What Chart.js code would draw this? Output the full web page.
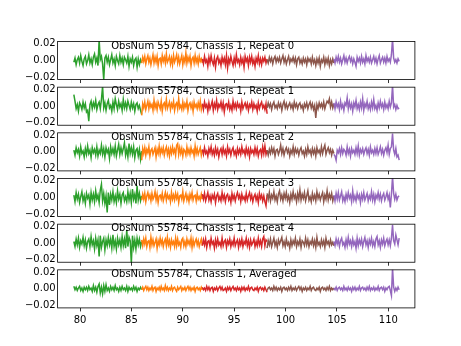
<!DOCTYPE html>
<html>
<head>
<meta charset="utf-8">
<script src="https://cdn.jsdelivr.net/npm/chart.js@4.4.1/dist/chart.umd.min.js"></script>
<style>
  body { margin: 0; background: #fff; }
  #wrap { position: relative; width: 461px; height: 346px; }
  #wrap canvas { position: absolute; left: 0; top: 0; }
</style>
</head>
<body>
<div id="wrap"></div>
<script>
// Six stacked panels of band spectra (five sub-bands each), drawn with Chart.js.
// All values below are in units of 1e-3.

// frequency span of each sub-band (x axis)
const SEG_START = [79.4, 86.0, 91.9, 98.2, 104.7];
const SEG_END = [86.0, 91.9, 98.2, 104.7, 111.05];
const X_TICKS = [80, 85, 90, 95, 100, 105, 110];
const Y_TICKS = [-0.02, 0, 0.02];
const PANEL_LABELS = [
  'ObsNum 55784, Chassis 1, Repeat 0',
  'ObsNum 55784, Chassis 1, Repeat 1',
  'ObsNum 55784, Chassis 1, Repeat 2',
  'ObsNum 55784, Chassis 1, Repeat 3',
  'ObsNum 55784, Chassis 1, Repeat 4',
  'ObsNum 55784, Chassis 1, Averaged'
];

// Repeat 0
const rep0Green = [-2, 3, -5, 1, 4, -3, 6, -1, -6, 2, 5, -4, 0, 7, -3, 2, -5, 4, 8, -2, 3, -6, 25, 1, 5, -4, -23, 3, 6, -2, 4, -5, 1, 7, -3, 2, -6, 5, 0, -4, 6, -2, 3, -5, 4, 1, -3, 5, -7, 2, -2, 4, -6, 1, 3, -8, 2, -5, 1, -3];
const rep0Orange = [-3, 4, -1, 5, -4, 2, 6, -2, 3, -5, 1, 7, -3, 4, -2, 5, -6, 2, 3, -4, 6, -1, 4, -3, 8, -2, 1, 5, -4, 3, -5, 6, -2, 2, 7, -3, 4, -4, 1, 6, -5, 3, -2, 9, -3, 4, -1, 5, -6, 2, 4, -3, 6, -2, 3, -4, 5, -1, 2, -3];
const rep0Red = [2, -4, 5, -2, 1, -7, 4, -3, 6, -1, -5, 3, -8, 2, 5, -3, 1, -6, 4, -2, 3, -5, 6, -9, 2, -3, 5, -1, -6, 3, -4, 7, -2, 1, -5, 4, -3, 2, -8, 5, -1, 3, -6, 4, -2, 5, -4, 1, -7, 3, -2, 6, -4, 2, -5, 3, -1, 4, -3, 2];
const rep0Brown = [1, -3, 4, -1, 3, -4, 2, 5, -2, 3, -1, 4, -3, 2, 6, -2, 3, -4, 1, 5, -3, 2, -1, 4, -2, 3, -5, 2, 4, -3, 1, -4, 3, -2, 2, -5, 3, -1, 2, -4, 4, -3, 1, -6, 2, -3, 3, -7, 1, -2, 4, -5, 2, -3, 3, -6, 1, -4, 2, -3];
const rep0Purple = [2, -3, 4, -1, 5, -2, 3, -4, 1, 6, -2, 3, -3, 2, 5, -1, 3, -4, 2, -2, -7, 4, -1, 3, -3, 5, -2, 2, -4, 6, -1, 3, -2, 4, -3, 1, 5, -2, 3, -4, 2, 6, -3, 1, 4, -2, 3, -3, 5, -1, 2, -2, 7, 26, 3, -2, 1, -3, 2, -1];

// Repeat 1
const rep1Green = [14, 6, -3, 2, -6, 4, 1, -4, 5, -2, 3, -7, -5, -18, 2, 6, -3, 4, -1, 7, -4, 2, 5, -3, 8, 24, -2, 4, -5, 3, 7, -2, 1, -6, 5, -3, 9, 2, -4, 6, -1, 3, -5, 8, -2, 4, -3, 6, 1, -4, 5, -2, 3, -6, 2, 4, -3, 1, -5, -10];
const rep1Orange = [-11, 3, -2, 5, -4, 1, 6, -3, 4, -1, 2, -5, 7, -2, 3, -4, 5, 1, -3, 6, -6, 2, 4, -2, 8, -3, 1, 5, -4, 3, -1, 6, -5, 2, 4, -3, 9, -2, 1, -4, 5, -3, 3, -1, 6, -5, 2, 4, -2, 3, -6, 5, -1, 2, -3, 4, -2, 6, -4, 2];
const rep1Red = [3, -4, 5, -1, 2, -6, 4, -3, 1, 6, -5, 3, -2, 7, -4, 2, -1, 5, -3, 4, -7, 2, 3, -2, 5, -4, 1, -5, 6, -2, 3, -3, 4, -1, 2, -6, 5, -3, 1, 4, -2, 3, -5, 2, -1, 5, -4, 3, -2, 1, -6, 4, -3, 2, 5, -2, 1, -4, 3, -9];
const rep1Brown = [-2, 4, -1, 3, -4, 2, 5, -2, 1, -3, 4, -1, 3, -5, 2, 6, -2, 3, -3, 1, 4, -2, 2, -4, 5, -1, 3, -3, 2, 4, -2, 1, -5, 3, -1, 4, -3, 2, 5, -2, 3, -4, 1, -14, 2, -3, 4, -1, 3, -2, 5, -3, 2, 6, 4, 9, -1, 5, -2, 3];
const rep1Purple = [4, -3, 5, -1, 3, -4, 6, -2, 2, -5, 4, 1, 10, -3, 5, -2, 3, -6, 4, -1, 7, -3, 2, -4, 5, -2, 9, -5, 3, -1, 6, -3, 2, -4, 5, -2, 8, -3, 1, -5, 4, -2, 6, -1, 3, -4, 5, -2, 2, -3, 6, -1, 4, 25, -1, 2, -4, 1, -3, -2];

// Repeat 2
const rep2Green = [2, -4, 5, -1, 3, -5, 6, -2, 1, -6, 4, -3, 7, -2, 2, -7, 5, -1, 3, -4, 6, -5, 2, -2, 8, -3, 4, -6, 5, -1, 3, -8, 6, -2, 4, -3, 7, -5, 2, 9, -3, 5, -2, 4, 11, -4, 3, -6, 10, -2, 5, -3, 6, -7, 2, 4, -5, 3, -9, 1];
const rep2Orange = [-10, 4, -2, 5, -4, 3, -1, 6, -5, 2, 4, -3, 1, 5, -6, 3, -2, 7, -3, 4, -1, 5, -4, 2, 6, -3, 3, -5, 4, -2, 6, -1, 3, -4, 8, 10, -3, 5, -2, 4, -5, 3, 1, -4, 6, -2, 3, -3, 5, -1, 2, -5, 7, -2, 4, -3, 1, 5, -4, 2];
const rep2Red = [3, -3, 5, -2, 1, -5, 4, -1, 6, -3, 2, -4, 5, -2, 3, -6, 1, 4, -3, 5, -2, 2, -5, 6, -1, 3, -4, 2, 5, -3, 1, -5, 4, -2, 3, -3, 6, -1, 2, -4, 5, -2, 3, -6, 4, -1, 2, -3, 5, -2, 4, -5, 1, 3, -4, 6, -2, 7, -3, 2];
const rep2Brown = [2, -4, 3, -2, 5, -1, 4, -5, 2, 3, -3, 1, 8, -2, 4, -4, 2, 5, -1, 3, -5, 2, -2, 6, -3, 4, -1, 3, -4, 2, 5, -2, 1, -5, 3, -3, 6, -1, 2, -4, 4, -2, 3, -5, 5, -1, 2, -3, 6, -2, 4, 8, -3, 2, 5, -1, 3, -4, 2, -2];
const rep2Purple = [-3, -5, -10, 2, -1, 4, -3, 5, -2, 3, 1, -4, 6, -2, 3, -5, 4, -1, 2, -3, 5, -2, 7, -4, 3, -1, 4, -3, 2, 5, -2, 3, -4, 6, -1, 2, -3, 4, -2, 5, -3, 1, 6, -2, 3, -4, 2, 5, -1, 8, -3, 4, 6, 22, 2, -3, 4, -6, -4, -10];

// Repeat 3
const rep3Green = [3, -5, 6, -2, 4, -6, 1, 7, -4, 2, -7, 5, -1, 3, -8, 6, -3, 4, -5, 8, -2, 3, -6, 9, 16, -4, 5, -7, 2, -18, 6, -9, 4, -3, 7, -5, 2, -6, 8, -2, 4, -7, 3, 6, -4, 1, -5, 7, -3, 5, -6, 10, -2, 4, -7, 14, -3, 5, -4, 2];
const rep3Orange = [-3, 4, -2, 5, -5, 2, 6, -1, 3, -4, 5, -2, 1, 7, -3, 4, -6, 2, 3, -2, 5, -4, 1, 6, -3, 4, -1, 2, -5, 6, -2, 3, -3, 5, -1, 4, -6, 2, 3, -2, 7, -4, 1, 5, -3, 2, -5, 4, -1, 6, -3, 2, 3, -4, 5, -2, 1, -3, 4, -2];
const rep3Red = [4, -2, 5, -4, 1, 6, -3, 2, -5, 3, -1, 4, -6, 2, 5, -3, 1, -4, 6, -2, 3, -5, 2, 4, -3, 1, -6, 5, -2, 3, -4, 2, 6, -1, 3, -5, 4, -2, 1, -4, 5, -3, 2, 6, -2, 3, -5, 1, 4, -3, 2, -6, 5, -1, 3, -4, 2, -5, -10, 3];
const rep3Brown = [5, -2, 6, -4, 3, -1, 7, -3, 2, -5, 4, 8, -2, 3, -4, 5, -1, 6, -3, 2, -6, 4, -2, 7, -1, 3, -5, 5, -2, 9, -3, 4, -1, 6, -4, 2, 8, -3, 1, -5, 5, -2, 3, -4, 7, -1, 4, -3, 2, 6, -5, 3, -2, 8, -3, 4, -1, 5, -4, 2];
const rep3Purple = [3, -4, 5, -2, 6, -3, 2, 7, -4, 1, -5, 4, -2, 6, -1, 3, -5, 8, -3, 2, -4, 5, -1, 3, -6, 4, -2, 6, -3, 1, 5, -4, 2, -2, 7, -3, 4, -5, 3, -1, 6, -2, 4, -4, 2, 5, -3, 1, 6, -2, 3, -12, 4, 25, 5, -2, 4, -3, 1, 2];

// Repeat 4
const rep4Green = [2, -4, 5, -2, 6, -5, 3, -1, 7, -3, 4, -6, 2, 5, -4, 8, -2, 3, -7, 6, -3, 4, -16, 9, -5, 2, 6, -8, 4, -3, 7, -2, 5, -6, 10, -4, 3, -7, 6, -2, 4, -5, 8, -3, 5, -6, 16, -4, 7, 3, -24, 9, -5, 4, -7, 6, -2, 5, -4, 2];
const rep4Orange = [4, -3, 5, -1, 6, -4, 2, 3, -5, 7, -2, 4, -3, 1, 5, -6, 3, -2, 6, -1, 4, -4, 2, 5, -3, 7, -2, 3, -5, 4, -1, 2, -4, 6, -3, 5, -2, 1, -5, 4, 6, -3, 2, -4, 5, -1, 3, -2, 6, -5, 4, -3, 2, 5, -2, 3, -4, 1, 5, -3];
const rep4Red = [-3, 4, -2, 5, -5, 2, 3, -4, 6, -1, 2, -6, 4, -3, 5, -2, 1, -4, 6, -3, 2, 4, -5, 3, -1, 5, -4, 2, -2, 6, -3, 1, 4, -5, 3, -2, 5, -4, 2, -1, 6, -3, 3, -5, 4, -2, 1, 5, -4, 2, -3, 6, -2, 3, -4, 5, 8, -3, 4, 2];
const rep4Brown = [-6, 3, -2, 5, -4, 1, 6, -3, 2, -5, 4, -1, 3, 7, -3, 2, -4, 5, -2, 1, -6, 4, -3, 3, -1, 6, -4, 2, -2, 5, -5, 3, 1, -3, 6, -2, 4, -4, 2, -1, 5, -3, 3, -5, 7, -2, 1, -4, 4, -2, 3, -5, 6, -1, 2, -3, 4, -2, 1, -3];
const rep4Purple = [2, -3, 5, -1, 4, -4, 3, 6, -2, 1, -5, 4, -3, 7, -1, 3, -4, 5, -2, 2, -6, 6, -3, 4, -1, 5, -4, 2, 7, -2, 3, -5, 4, -1, 6, -3, 2, -4, 5, 8, -2, 3, -5, 4, -1, 6, -3, 2, 5, -2, 4, -3, 6, 22, 3, -1, 10, 4, -2, 6];

// Averaged
const avgGreen = [3, -1, 2, -2, 1, 3, -2, 1, -3, 2, -1, 2, -2, 3, -1, 1, -3, 4, -2, 2, -4, 3, 6, -5, 2, -6, 4, -3, 5, -2, 1, -3, 3, -1, 2, -2, 4, -1, 1, -3, 2, -2, 3, -1, 1, -2, 3, -3, 2, -1, 1, -2, 3, -1, 2, -3, 1, -1, 2, -1];
const avgOrange = [-1, 2, -2, 1, 3, -1, 2, -2, 1, -1, 3, -2, 1, 2, -3, 1, -1, 2, -2, 3, -1, 1, -2, 4, -1, 2, -2, 1, -1, 3, -2, 1, 2, -1, -3, 2, -1, 1, 3, -2, 1, -1, 2, -2, 1, 3, -1, 2, -2, 1, -1, 2, -3, 1, 2, -1, 1, -2, 2, -1];
const avgRed = [2, -1, 1, -2, 3, -1, 2, -2, 1, 2, -3, 1, -1, 2, -2, 1, 3, -1, 2, -2, -1, 1, -3, 2, -1, 2, -2, 1, 3, -1, 1, -2, 2, -1, 1, -3, 2, -1, 2, -2, 1, -1, 3, -2, 1, 2, -1, -2, 1, -1, 2, -3, 1, 2, -1, 1, -2, 2, -1, -4];
const avgBrown = [-2, 1, 2, -1, 1, -2, 3, -1, 2, -2, 1, -1, 2, -3, 1, 2, -1, 1, -2, 2, -1, 3, -2, 1, -1, 2, -2, 1, 3, -1, 2, -3, 1, -1, 2, -2, 1, -1, 3, -2, 1, 2, -1, -2, 1, -1, 2, -3, 1, 2, -1, 1, -2, 2, -1, 3, -2, 1, -1, 1];
const avgPurple = [1, -1, 2, -2, 1, 2, -1, 1, -2, 3, -1, 1, -2, 2, -1, 1, -3, 2, -1, 2, -2, 1, -1, 3, -2, 1, 2, -1, 1, -2, 2, -1, 3, -2, 1, -1, 2, -2, 1, -1, 3, -2, 1, 2, -1, 2, -3, 1, -1, 2, 3, -2, -8, 25, 2, -3, 1, -2, 2, -1];

const PANEL_DATA = [
  [rep0Green, rep0Orange, rep0Red, rep0Brown, rep0Purple],
  [rep1Green, rep1Orange, rep1Red, rep1Brown, rep1Purple],
  [rep2Green, rep2Orange, rep2Red, rep2Brown, rep2Purple],
  [rep3Green, rep3Orange, rep3Red, rep3Brown, rep3Purple],
  [rep4Green, rep4Orange, rep4Red, rep4Brown, rep4Purple],
  [avgGreen, avgOrange, avgRed, avgBrown, avgPurple]
];

// matplotlib tab10 colours
const SEG_COLORS = ['#2ca02c', '#ff7f0e', '#d62728', '#8c564b', '#9467bd'];

// layout (pixels), 6 panels with gaps of 0.2 panel height
const FIG_W = 461, FIG_H = 346;
const AX_LEFT = 57.6, AX_RIGHT = 414.9, AX_TOP = 41.5, AX_BOTTOM = 307.9;
const PANEL_H = (AX_BOTTOM - AX_TOP) / 7;
const PANEL_GAP = PANEL_H * 0.2;
const X_MIN = 77.82, X_MAX = 112.58;
const Y_LIM = 0.0228;

Chart.defaults.font.family = '"DejaVu Sans", sans-serif';
Chart.defaults.font.size = 10;
Chart.defaults.color = '#000';

function segPoints(vals, k) {
  const step = (SEG_END[k] - SEG_START[k]) / (vals.length - 1);
  return vals.map((v, i) => ({ x: SEG_START[k] + i * step, y: v / 1000 }));
}

function fmtY(v) {
  if (Math.abs(v) < 1e-9) return '0.00';
  return (v < 0 ? '\u2212' : '') + Math.abs(v).toFixed(2);
}

//frame + panel label drawn over the data like matplotlib spines
function framePlugin(label) {
  return {
    id: 'frame',
    afterDraw(chart) {
      const ctx = chart.ctx, a = chart.chartArea;
      ctx.save();
      ctx.strokeStyle = '#000';
      ctx.lineWidth = 0.8;
      ctx.strokeRect(a.left, a.top, a.right - a.left, a.bottom - a.top);
      ctx.fillStyle = '#000';
      ctx.font = '10px "DejaVu Sans"';
      ctx.textAlign = 'left';
      ctx.textBaseline = 'alphabetic';
      ctx.fillText(label, a.left + 0.15 * (a.right - a.left), a.top + 7.3);
      ctx.restore();
    }
  };
}

const wrap = document.getElementById('wrap');

PANEL_DATA.forEach((segs, p) => {
  const canvas = document.createElement('canvas');
  canvas.width = FIG_W;
  canvas.height = FIG_H;
  wrap.appendChild(canvas);

  const isLast = p === PANEL_DATA.length - 1;
  const top = AX_TOP + p * (PANEL_H + PANEL_GAP);
  const bottom = top + PANEL_H;
  const xAxisH = isLast ? 20 : 3.5;

  new Chart(canvas.getContext('2d'), {
    type: 'line',
    data: {
      datasets: segs.map((vals, k) => ({
        data: segPoints(vals, k),
        borderColor: SEG_COLORS[k],
        borderWidth: 1.5,
        pointRadius: 0,
        tension: 0,
        fill: false,
        order: segs.length - k
      }))
    },
    options: {
      responsive: false,
      animation: false,
      devicePixelRatio: 1,
      events: [],
      layout: {
        padding: { left: 0, right: FIG_W - AX_RIGHT, top: top, bottom: FIG_H - bottom - xAxisH }
      },
      plugins: { legend: { display: false }, tooltip: { enabled: false } },
      scales: {
        x: {
          type: 'linear',
          min: X_MIN,
          max: X_MAX,
          border: { display: false },
          grid: { display: true, drawOnChartArea: false, drawTicks: true, tickLength: 3.5, color: '#000', lineWidth: 0.8 },
          ticks: { display: isLast, padding: 3.5, maxRotation: 0, callback: v => String(v) },
          afterBuildTicks: s => { s.ticks = X_TICKS.map(v => ({ value: v })); },
          afterFit: s => { s.height = xAxisH; }
        },
        y: {
          min: -Y_LIM,
          max: Y_LIM,
          border: { display: false },
          grid: { display: false, drawTicks: false },
          ticks: { padding: 2, callback: v => fmtY(v) },
          afterBuildTicks: s => { s.ticks = Y_TICKS.map(v => ({ value: v })); },
          afterFit: s => { s.width = AX_LEFT; }
        }
      }
    },
    plugins: [framePlugin(PANEL_LABELS[p])]
  });
});
</script>
</body>
</html>
